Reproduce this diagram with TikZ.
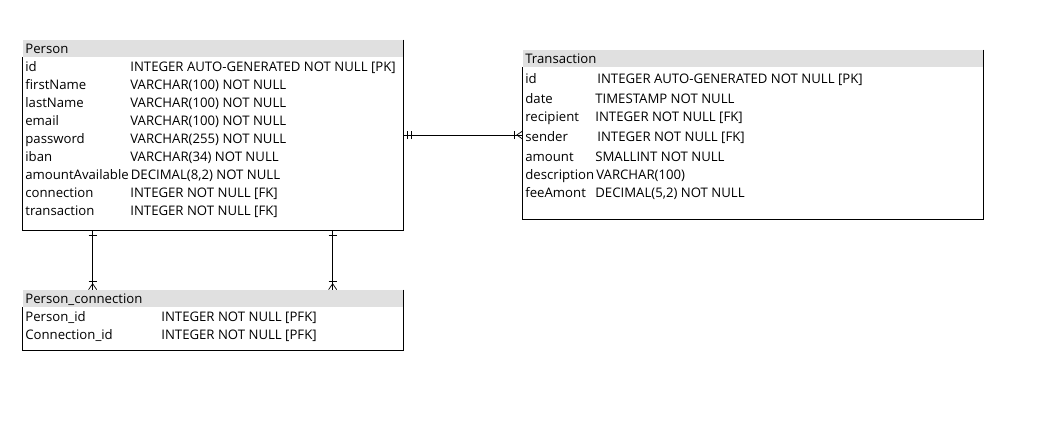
\documentclass[tikz,border=0pt]{standalone}
\usepackage{fontspec}
\setmainfont{Open Sans}
\usepackage{xcolor}
\usetikzlibrary{calc,fit,decorations.markings}
\definecolor{headgray}{RGB}{224,224,224}

\begin{document}
\begin{tikzpicture}[x=0.02cm,y=-0.02cm,
    field/.style={anchor=base west,inner sep=0pt,font=\fontsize{7.5}{9}\selectfont},
    tablebox/.style={inner sep=0pt},
    tablehead/.style={fill=headgray,inner sep=0pt},
    onemany/.style={postaction={decorate,decoration={markings,
        mark=at position 2.8pt with {\draw (0,-2.3pt) -- (0,2.3pt);},
        mark=at position -4.6pt with {\draw (0,-2.3pt) -- (0,2.3pt);},
        mark=at position -3.4pt with {\draw (0,0) -- (3.4pt,2.3pt) (0,0) -- (3.4pt,-2.3pt);}}}},
    mandmany/.style={postaction={decorate,decoration={markings,
        mark=at position 2.3pt with {\draw (0,-2.3pt) -- (0,2.3pt);},
        mark=at position 4.5pt with {\draw (0,-2.3pt) -- (0,2.3pt);},
        mark=at position -4.6pt with {\draw (0,-2.3pt) -- (0,2.3pt);},
        mark=at position -3.4pt with {\draw (0,0) -- (3.4pt,2.3pt) (0,0) -- (3.4pt,-2.3pt);}}}}]
    \useasboundingbox (0,0) rectangle (1058,430);
    % Table Person
    \node[tablebox, fit={(23,40) (403,230)}] (person) {};
    \node[tablehead, fit={(23,40) (403,57)}] (personhead) {};
    \draw (person.north east) -- (person.south east) -- (person.south west) -- (personhead.south west);
    \node[field] (ptitle) at (25,53) {Person};
    \node[field] (pid) at (25,71.5) {id};
    \node[field] (pidtype) at (130,71.5) {INTEGER AUTO-GENERATED NOT NULL [PK]};
    \node[field] (pfirst) at (25,89.5) {firstName};
    \node[field] (pfirsttype) at (130,89.5) {VARCHAR(100) NOT NULL};
    \node[field] (plast) at (25,107.5) {lastName};
    \node[field] (plasttype) at (130,107.5) {VARCHAR(100) NOT NULL};
    \node[field] (pemail) at (25,125.5) {email};
    \node[field] (pemailtype) at (130,125.5) {VARCHAR(100) NOT NULL};
    \node[field] (ppass) at (25,143.5) {password};
    \node[field] (ppasstype) at (130,143.5) {VARCHAR(255) NOT NULL};
    \node[field] (piban) at (25,161.5) {iban};
    \node[field] (pibantype) at (130,161.5) {VARCHAR(34) NOT NULL};
    \node[field] (pamount) at (25,179.5) {amountAvailable};
    \node[field] (pamounttype) at (130.5,179.5) {DECIMAL(8,2) NOT NULL};
    \node[field] (pconn) at (25,197.5) {connection};
    \node[field] (pconntype) at (130,197.5) {INTEGER NOT NULL [FK]};
    \node[field] (ptrans) at (25,215.5) {transaction};
    \node[field] (ptranstype) at (130,215.5) {INTEGER NOT NULL [FK]};
    % Table Transaction
    \node[tablebox, fit={(523,50) (983,219)}] (trans) {};
    \node[tablehead, fit={(523,50) (983,67)}] (transhead) {};
    \draw (trans.north east) -- (trans.south east) -- (trans.south west) -- (transhead.south west);
    \node[field] (ttitle) at (525,63) {Transaction};
    \node[field] (tid) at (525,83.5) {id};
    \node[field] (tidtype) at (597,83.5) {INTEGER AUTO-GENERATED NOT NULL [PK]};
    \node[field] (tdate) at (525,103.5) {date};
    \node[field] (tdatetype) at (595,103.5) {TIMESTAMP NOT NULL};
    \node[field] (trecip) at (525,121.5) {recipient};
    \node[field] (trecitype) at (595,121.5) {INTEGER NOT NULL [FK]};
    \node[field] (tsender) at (525,141.5) {sender};
    \node[field] (tsendertype) at (597,141.5) {INTEGER NOT NULL [FK]};
    \node[field] (tamount) at (525,161.5) {amount};
    \node[field] (tamounttype) at (595,161.5) {SMALLINT NOT NULL};
    \node[field] (tdesc) at (525,179.5) {description};
    \node[field] (tdesctype) at (596,179.5) {VARCHAR(100)};
    \node[field] (tfee) at (525,197.5) {feeAmont};
    \node[field] (tfeetype) at (595,197.5) {DECIMAL(5,2) NOT NULL};
    % Table Person_connection
    \node[tablebox, fit={(23,290) (403,350)}] (pcon) {};
    \node[tablehead, fit={(23,290) (403,307)}] (pconhead) {};
    \draw (pcon.north east) -- (pcon.south east) -- (pcon.south west) -- (pconhead.south west);
    \node[field] (ctitle) at (25,303) {Person\_connection};
    \node[field] (cperson) at (25,321.5) {Person\_id};
    \node[field] (cpersontype) at (161,321.5) {INTEGER NOT NULL [PFK]};
    \node[field] (cconn) at (25,339.5) {Connection\_id};
    \node[field] (cconntype) at (161,339.5) {INTEGER NOT NULL [PFK]};
    %
    % Relations
    \draw[mandmany] (person.east) -- (trans.west |- person.east);
    \draw[onemany] ($(person.south west)+(70,0)$) -- ($(pcon.north west)+(70,0)$);
    \draw[onemany] ($(person.south west)+(310,0)$) -- ($(pcon.north west)+(310,0)$);
\end{tikzpicture}
\end{document}
